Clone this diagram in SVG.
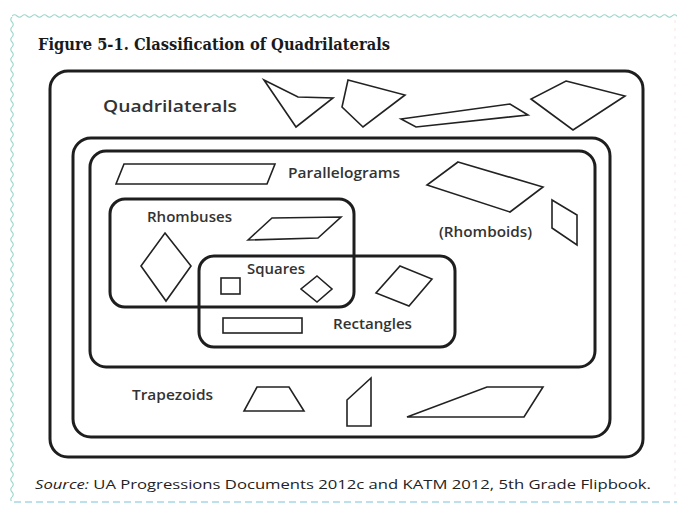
<svg xmlns="http://www.w3.org/2000/svg" width="677" height="506" viewBox="0 0 677 506">
  <defs>
    <pattern id="waveH" x="12" y="13" width="10" height="6" patternUnits="userSpaceOnUse">
      <path d="M0 3 Q2.5 0.5 5 3 T10 3" fill="none" stroke="#9ed6cc" stroke-width="1.1"/>
    </pattern>
    <pattern id="waveV" x="9" y="17" width="6" height="10" patternUnits="userSpaceOnUse">
      <path d="M3 0 Q0.5 2.5 3 5 T3 10" fill="none" stroke="#9ed6cc" stroke-width="1.1"/>
    </pattern>
    <style>
      .box { fill: none; stroke: #1e1e1e; stroke-width: 3; }
      .shape { fill: #fff; stroke: #222; stroke-width: 1.6; stroke-linejoin: miter; }
      .lbl { font-family: "Open Sans", "Noto Sans", "Liberation Sans", sans-serif; font-weight: 600; fill: #333; }
      .title { font-family: "DejaVu Serif", "Liberation Serif", serif; font-weight: bold; fill: #1a1a1a; }
      .src { font-family: "Open Sans", "Noto Sans", "Liberation Sans", sans-serif; fill: #222; }
    </style>
  </defs>
  <rect width="677" height="506" fill="#ffffff"/>
  <g id="frame">
    <rect x="12" y="13" width="665" height="6" fill="url(#waveH)"/>
    <rect x="9" y="17" width="6" height="484" fill="url(#waveV)"/>
    <line x1="14" y1="502" x2="677" y2="502" stroke="#a8d8e6" stroke-width="1.5" stroke-dasharray="7 4"/>
    <line x1="675" y1="20" x2="675" y2="500" stroke="#f6e4e4" stroke-width="1" stroke-dasharray="3 5"/>
  </g>
  <text class="title" x="38" y="50" font-size="17" textLength="352" lengthAdjust="spacingAndGlyphs">Figure 5-1. Classification of Quadrilaterals</text>

  <g id="connectors"/>

  <g id="quadrilaterals">
    <rect class="box" x="50" y="71" width="593" height="386" rx="18"/>
    <text class="lbl" x="103" y="112" font-size="17" textLength="134" lengthAdjust="spacingAndGlyphs">Quadrilaterals</text>
    <polygon class="shape" points="264,80 298,97 333,98 296,127"/>
    <polygon class="shape" points="348,80 405,95 363,127 342,107"/>
    <polygon class="shape" points="401,119 510,104 528,115 416,127"/>
    <polygon class="shape" points="566,81 625,96 573,130 531,99"/>
  </g>

  <g id="trapezoids">
    <rect class="box" x="73" y="138" width="537" height="299" rx="18"/>
    <text class="lbl" x="132" y="400" font-size="15" textLength="81" lengthAdjust="spacingAndGlyphs">Trapezoids</text>
    <polygon class="shape" points="257,387 289,387 304,411 244,411"/>
    <polygon class="shape" points="347,400 371,378 371,426 347,426"/>
    <polygon class="shape" points="407,417 487,387 543,387 524,417"/>
  </g>

  <g id="parallelograms">
    <rect class="box" x="90" y="151" width="505" height="216" rx="16"/>
    <text class="lbl" x="288" y="178" font-size="15" textLength="112" lengthAdjust="spacingAndGlyphs">Parallelograms</text>
    <polygon class="shape" points="124,164 275,164 267,184 116,184"/>
    <polygon class="shape" points="458,162 543,187 510,212 427,185"/>
    <polygon class="shape" points="552,200 577,215 577,245 552,228"/>
    <text class="lbl" x="439" y="237" font-size="15" textLength="93" lengthAdjust="spacingAndGlyphs">(Rhomboids)</text>
  </g>

  <g id="rhombuses">
    <rect class="box" x="110" y="199" width="244" height="108" rx="15"/>
    <text class="lbl" x="147" y="222" font-size="15" textLength="85" lengthAdjust="spacingAndGlyphs">Rhombuses</text>
    <polygon class="shape" points="248,240 272,218 341,217 318,238"/>
    <polygon class="shape" points="165,233 191,266 166,301 141,266"/>
  </g>

  <g id="rectangles">
    <rect class="box" x="199" y="256" width="256" height="91" rx="15"/>
    <text class="lbl" x="333" y="329" font-size="15" textLength="79" lengthAdjust="spacingAndGlyphs">Rectangles</text>
    <rect class="shape" x="223" y="318" width="79" height="15"/>
    <polygon class="shape" points="400,266 432,279 409,306 376,293"/>
  </g>

  <g id="squares">
    <text class="lbl" x="247" y="274" font-size="15" textLength="58" lengthAdjust="spacingAndGlyphs">Squares</text>
    <rect class="shape" x="221" y="278" width="19" height="16"/>
    <polygon class="shape" points="317,276 332,289 317,302 301,289"/>
  </g>

  <text class="src" x="35" y="489" font-size="13.5" textLength="616" lengthAdjust="spacingAndGlyphs"><tspan font-style="italic">Source:</tspan> UA Progressions Documents 2012c and KATM 2012, 5th Grade Flipbook.</text>
</svg>
